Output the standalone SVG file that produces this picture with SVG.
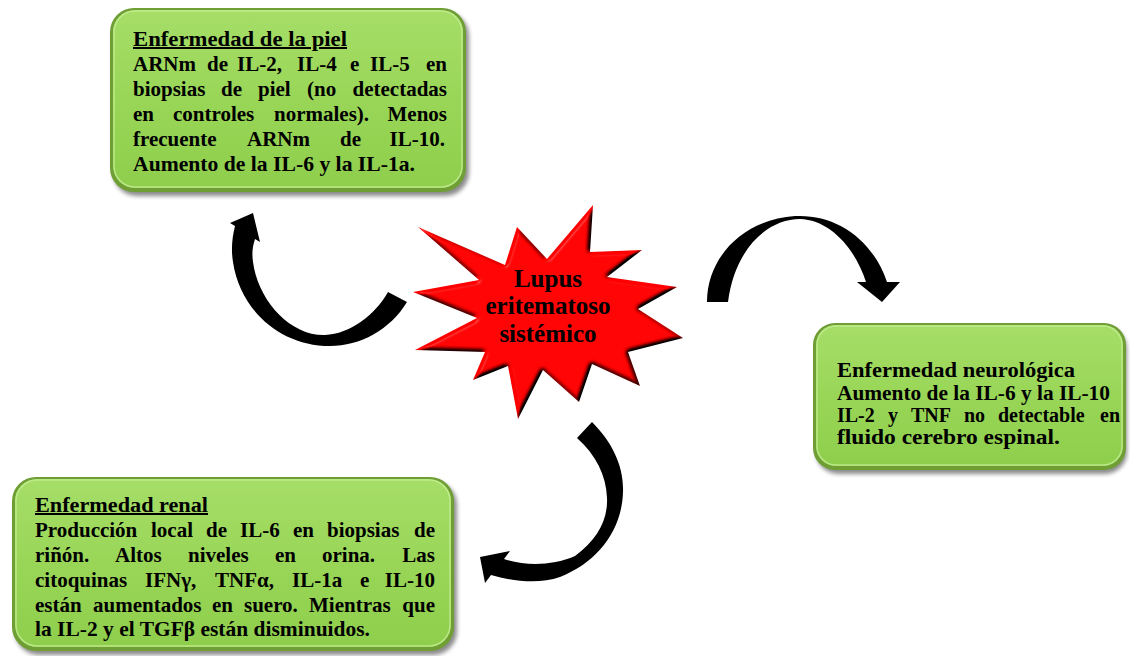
<svg xmlns="http://www.w3.org/2000/svg" width="1130" height="656" viewBox="0 0 1130 656">
  <style>
    .txt { font-family: "Liberation Serif", "Times New Roman", serif; font-weight: bold; fill: #000; }
    .body { font-size: 21px; }
    .small { font-size: 20px; }
    .title { font-size: 20px; text-decoration: underline; }
    .star-txt { font-family: "Liberation Serif", "Times New Roman", serif; font-weight: bold; font-size: 25px; text-anchor: middle; fill: #000; }
    .end { text-anchor: end; }
    .shadow { fill: #000; opacity: 0.45; filter: url(#soft); }
    .rim { fill: #6f9e35; }
    .face { fill: url(#green); }
    .shine { fill: none; stroke: #c4ee94; stroke-width: 1.5; opacity: 0.8; }
    .arrow { fill: #000; }
  </style>
  <defs>
    <linearGradient id="green" x1="0" y1="0" x2="0" y2="1">
      <stop offset="0" stop-color="#a6de68"/>
      <stop offset="0.5" stop-color="#99d657"/>
      <stop offset="1" stop-color="#8fce4d"/>
    </linearGradient>
    <filter id="soft" x="-10%" y="-10%" width="120%" height="120%">
      <feGaussianBlur stdDeviation="2"/>
    </filter>
    <!-- bevelled red burst: diffuse shading darkens far edges, a little specular lifts ridges -->
    <filter id="bevel" x="-10%" y="-10%" width="120%" height="120%" color-interpolation-filters="sRGB">
      <feGaussianBlur in="SourceAlpha" stdDeviation="2" result="blur"/>
      <feDiffuseLighting in="blur" surfaceScale="4" diffuseConstant="1.3" lighting-color="#ffffff" result="diff">
        <feDistantLight azimuth="225" elevation="50"/>
      </feDiffuseLighting>
      <feComposite in="SourceGraphic" in2="diff" operator="arithmetic" k1="1" k2="0" k3="0" k4="0" result="shaded"/>
      <feSpecularLighting in="blur" surfaceScale="4" specularConstant="0.6" specularExponent="40" lighting-color="#ffffff" result="spec">
        <feDistantLight azimuth="225" elevation="50"/>
      </feSpecularLighting>
      <feComposite in="spec" in2="SourceAlpha" operator="in" result="specIn"/>
      <feComposite in="shaded" in2="specIn" operator="arithmetic" k1="0" k2="1" k3="0.4" k4="0"/>
    </filter>
  </defs>

  <rect width="1130" height="656" fill="#fff"/>

  <!-- curved arrows -->
  <g id="connectors">
    <path class="arrow" d="M407,302 C390,330 360,346 330,346 C280,346 240,310 233,262 C231,250 232,238 235,226 L230,223 L253,213 L260,242 L255,239 C252,248 252,255 253,262 C258,300 290,336 325,335 C350,334 375,315 388,292 Z"/>
    <path class="arrow" d="M707,302 C707,258 742,220 795,216 C835,214 872,238 887,282 L900,282 L882,302 L857,282 L866,282 C855,248 830,220 800,219 C768,219 735,248 728,302 Z"/>
    <path class="arrow" d="M592,422 C612,442 624,466 623,492 C622,530 598,562 560,577 C540,584 515,582 491,575 L485,583 L480,557 L510,551 L504,559 C525,566 552,566 575,556 C597,540 608,520 607,498 C606,475 596,455 577,438 Z"/>
  </g>

  <!-- central star -->
  <g id="lupus">
    <polygon fill="#ff0000" filter="url(#bevel)"
      points="418,227 505,265 517,227 547,259 593,205 590,252 642,250 607,277 677,287 638,309 683,338 628,352 640,386 592,364 579,402 543,370 518,419 508,366 473,380 485,352 415,350 477,318 413,292 479,280"/>
    <text class="star-txt" x="548" y="287">Lupus</text>
    <text class="star-txt" x="548" y="314">eritematoso</text>
    <text class="star-txt" x="548" y="342">sistémico</text>
  </g>

  <!-- skin disease -->
  <g id="piel">
    <rect class="shadow" x="113" y="12" width="356" height="184" rx="24"/>
    <rect class="rim" x="110" y="8" width="356" height="184" rx="24"/>
    <rect class="face" x="113" y="10" width="350" height="178" rx="22"/>
    <rect class="shine" x="114" y="11" width="348" height="176" rx="21"/>
    <text class="txt title" x="133" y="46" textLength="214" lengthAdjust="spacingAndGlyphs">Enfermedad de la piel</text>
    <text class="txt body" y="71"><tspan x="133">ARNm</tspan> <tspan x="207">de</tspan> <tspan x="237">IL-2,</tspan> <tspan x="297">IL-4</tspan> <tspan x="350">e</tspan> <tspan x="370">IL-5</tspan> <tspan class="end" x="447">en</tspan></text>
    <text class="txt body" y="96"><tspan x="133">biopsias</tspan> <tspan x="221">de</tspan> <tspan x="258">piel</tspan> <tspan x="307">(no</tspan> <tspan class="end" x="447">detectadas</tspan></text>
    <text class="txt body" y="121"><tspan x="133">en</tspan> <tspan x="173">controles</tspan> <tspan x="274">normales).</tspan> <tspan class="end" x="447">Menos</tspan></text>
    <text class="txt body" y="146"><tspan x="133">frecuente</tspan> <tspan x="247">ARNm</tspan> <tspan x="340">de</tspan> <tspan class="end" x="445">IL-10.</tspan></text>
    <text class="txt body" x="133" y="171" textLength="282" lengthAdjust="spacingAndGlyphs">Aumento de la IL-6 y la IL-1a.</text>
  </g>

  <!-- neurological disease -->
  <g id="neurologica">
    <rect class="shadow" x="816" y="327" width="311" height="147" rx="22"/>
    <rect class="rim" x="813" y="323" width="313" height="147" rx="22"/>
    <rect class="face" x="816" y="325" width="307" height="141" rx="20"/>
    <rect class="shine" x="817" y="326" width="305" height="139" rx="19"/>
    <text class="txt small" x="837" y="377" textLength="238" lengthAdjust="spacingAndGlyphs">Enfermedad neurológica</text>
    <text class="txt small" x="837" y="400" textLength="273" lengthAdjust="spacingAndGlyphs">Aumento de la IL-6 y la IL-10</text>
    <text class="txt small" y="422"><tspan x="837">IL-2</tspan> <tspan x="888">y</tspan> <tspan x="911">TNF</tspan> <tspan x="964">no</tspan> <tspan x="998">detectable</tspan> <tspan class="end" x="1120">en</tspan></text>
    <text class="txt small" x="837" y="444" textLength="223" lengthAdjust="spacingAndGlyphs">fluido cerebro espinal.</text>
  </g>

  <!-- renal disease -->
  <g id="renal">
    <rect class="shadow" x="15" y="481" width="442" height="174" rx="24"/>
    <rect class="rim" x="12" y="477" width="442" height="174" rx="24"/>
    <rect class="face" x="15" y="479" width="436" height="168" rx="22"/>
    <rect class="shine" x="16" y="480" width="434" height="166" rx="21"/>
    <text class="txt title" x="35" y="512" textLength="173" lengthAdjust="spacingAndGlyphs">Enfermedad renal</text>
    <text class="txt body" y="537"><tspan x="35">Producción</tspan> <tspan x="151">local</tspan> <tspan x="206">de</tspan> <tspan x="240">IL-6</tspan> <tspan x="293">en</tspan> <tspan x="327">biopsias</tspan> <tspan class="end" x="435">de</tspan></text>
    <text class="txt body" y="562"><tspan x="35">riñón.</tspan> <tspan x="115">Altos</tspan> <tspan x="188">niveles</tspan> <tspan x="275">en</tspan> <tspan x="322">orina.</tspan> <tspan class="end" x="435">Las</tspan></text>
    <text class="txt body" y="587"><tspan x="35">citoquinas</tspan> <tspan x="145">IFNγ,</tspan> <tspan x="215">TNFα,</tspan> <tspan x="292">IL-1a</tspan> <tspan x="360">e</tspan> <tspan class="end" x="435">IL-10</tspan></text>
    <text class="txt body" y="612"><tspan x="35">están</tspan> <tspan x="93">aumentados</tspan> <tspan x="212">en</tspan> <tspan x="244">suero.</tspan> <tspan x="309">Mientras</tspan> <tspan class="end" x="435">que</tspan></text>
    <text class="txt body" x="35" y="636" textLength="335" lengthAdjust="spacingAndGlyphs">la IL-2 y el TGFβ están disminuidos.</text>
  </g>
</svg>
